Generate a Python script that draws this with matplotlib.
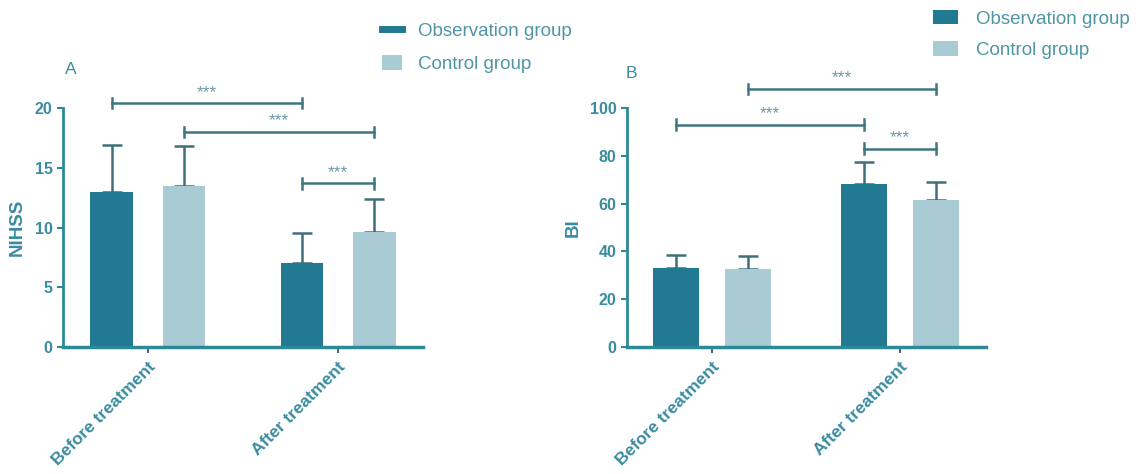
import matplotlib
matplotlib.use("Agg")
import matplotlib.pyplot as plt
from matplotlib.patches import Patch
from matplotlib.lines import Line2D
import numpy as np

plt.rcParams['font.family'] = ['Liberation Sans', 'DejaVu Sans']

categories = ["Before treatment", "After treatment"]
groups = ["Observation group", "Control group"]

nihss_obs = [13.0, 7.0]
nihss_obs_err = [3.9, 2.5]
nihss_ctrl = [13.5, 9.6]
nihss_ctrl_err = [3.3, 2.8]

bi_obs = [33.0, 68.0]
bi_obs_err = [5.5, 9.5]
bi_ctrl = [32.5, 61.5]
bi_ctrl_err = [5.5, 7.5]

nihss_ticks = [0, 5, 10, 15, 20]
bi_ticks = [0, 20, 40, 60, 80, 100]

# brackets: (group index, series index) start, end, height
nihss_brackets = [((0, 0), (1, 0), 20.4), ((0, 1), (1, 1), 18.0), ((1, 0), (1, 1), 13.7)]
bi_brackets = [((0, 1), (1, 1), 108.0), ((0, 0), (1, 0), 93.0), ((1, 0), (1, 1), 83.0)]

DARK = "#217a92"
LIGHT = "#a9cbd4"
AXC = "#2b8a96"
TXT = "#3a8ca0"
ERRC = "#3f7079"
BRC = "#3f7580"

W, H = 1136, 474
fig = plt.figure(figsize=(W / 100, H / 100), dpi=100)


def px_axes(x0, x1, y_top, y_bot):
    return fig.add_axes([x0 / W, (H - y_bot) / H, (x1 - x0) / W, (y_bot - y_top) / H])


axA = px_axes(63, 423, 108, 347)
axB = px_axes(627, 986, 108, 347)


def draw(ax, obs, obs_err, ctrl, ctrl_err, ticks, ylabel, brackets, width, off, ymax,
         xlim, star_dy):
    x = np.arange(len(categories))
    ax.bar(x - off, obs, width, color=DARK, zorder=2)
    ax.bar(x + off, ctrl, width, color=LIGHT, zorder=2)
    ax.errorbar(x - off, obs, yerr=[np.zeros(len(obs)), obs_err], fmt='none',
                ecolor=ERRC, elinewidth=1.8, capsize=7.5, capthick=1.8, zorder=1)
    ax.errorbar(x + off, ctrl, yerr=[np.zeros(len(ctrl)), ctrl_err], fmt='none',
                ecolor=ERRC, elinewidth=1.8, capsize=7.5, capthick=1.8, zorder=1)
    ax.set_xlim(*xlim)
    ax.set_ylim(0, ymax)
    ax.set_yticks(ticks)
    ax.set_xticks(x)
    ax.set_xticklabels(categories, rotation=45, ha='right', rotation_mode='anchor',
                       fontsize=12.5, fontweight='bold')
    ax.tick_params(axis='y', labelsize=11.5, color=AXC, labelcolor=TXT, width=1.5, length=4)
    ax.tick_params(axis='x', color=ERRC, labelcolor=TXT, width=1.5, length=4, pad=5)
    for lbl in ax.get_yticklabels():
        lbl.set_fontweight('bold')
    for s in ['top', 'right']:
        ax.spines[s].set_visible(False)
    ax.spines['left'].set_color(AXC)
    ax.spines['left'].set_linewidth(2)
    ax.spines['bottom'].set_color(AXC)
    ax.spines['bottom'].set_linewidth(2.5)
    ax.set_ylabel(ylabel, fontsize=13.5, fontweight='bold', color=TXT, labelpad=6)
    for (g1, s1), (g2, s2), h in brackets:
        x1 = g1 + (off if s1 else -off)
        x2 = g2 + (off if s2 else -off)
        ax.plot([x1, x2], [h, h], color=BRC, lw=1.8, clip_on=False)
        cap = ymax * 0.022
        ax.plot([x1, x1], [h - cap, h + cap], color=BRC, lw=1.8, clip_on=False)
        ax.plot([x2, x2], [h - cap, h + cap], color=BRC, lw=1.8, clip_on=False)
        ax.text((x1 + x2) / 2, h + star_dy, "***", ha='center', va='bottom',
                fontsize=12.5, color="#6a9aa3", clip_on=False)


draw(axA, nihss_obs, nihss_obs_err, nihss_ctrl, nihss_ctrl_err, nihss_ticks, "NIHSS",
     nihss_brackets, 0.225, 0.19, 20, (-0.447, 1.447), 0.3)
draw(axB, bi_obs, bi_obs_err, bi_ctrl, bi_ctrl_err, bi_ticks, "BI",
     bi_brackets, 0.245, 0.19, 100, (-0.452, 1.457), 1.5)

fig.text(65 / W, 1 - 70 / H, "A", fontsize=12.5, color=TXT, ha='left', va='center')
fig.text(626 / W, 1 - 74 / H, "B", fontsize=12.5, color=TXT, ha='left', va='center')

LEGTXT = "#4f95a6"
hA = [Line2D([0], [0], color=DARK, lw=5), Patch(facecolor=LIGHT, edgecolor='none')]
legA = fig.legend(hA, groups, loc='upper left', bbox_to_anchor=(382 / W, 1 - 22 / H),
                  frameon=False, fontsize=13.5, handlelength=1.07, handleheight=0.8,
                  labelspacing=0.83, handletextpad=0.85, borderpad=0, borderaxespad=0)
for t in legA.get_texts():
    t.set_color(LEGTXT)
hB = [Patch(facecolor=DARK, edgecolor='none'), Patch(facecolor=LIGHT, edgecolor='none')]
legB = fig.legend(hB, groups, loc='upper left', bbox_to_anchor=(933 / W, 1 - 10 / H),
                  frameon=False, fontsize=13.5, handlelength=1.33, handleheight=0.8,
                  labelspacing=0.73, handletextpad=0.96, borderpad=0, borderaxespad=0)
for t in legB.get_texts():
    t.set_color(LEGTXT)

fig.savefig("out.png", dpi=100)
